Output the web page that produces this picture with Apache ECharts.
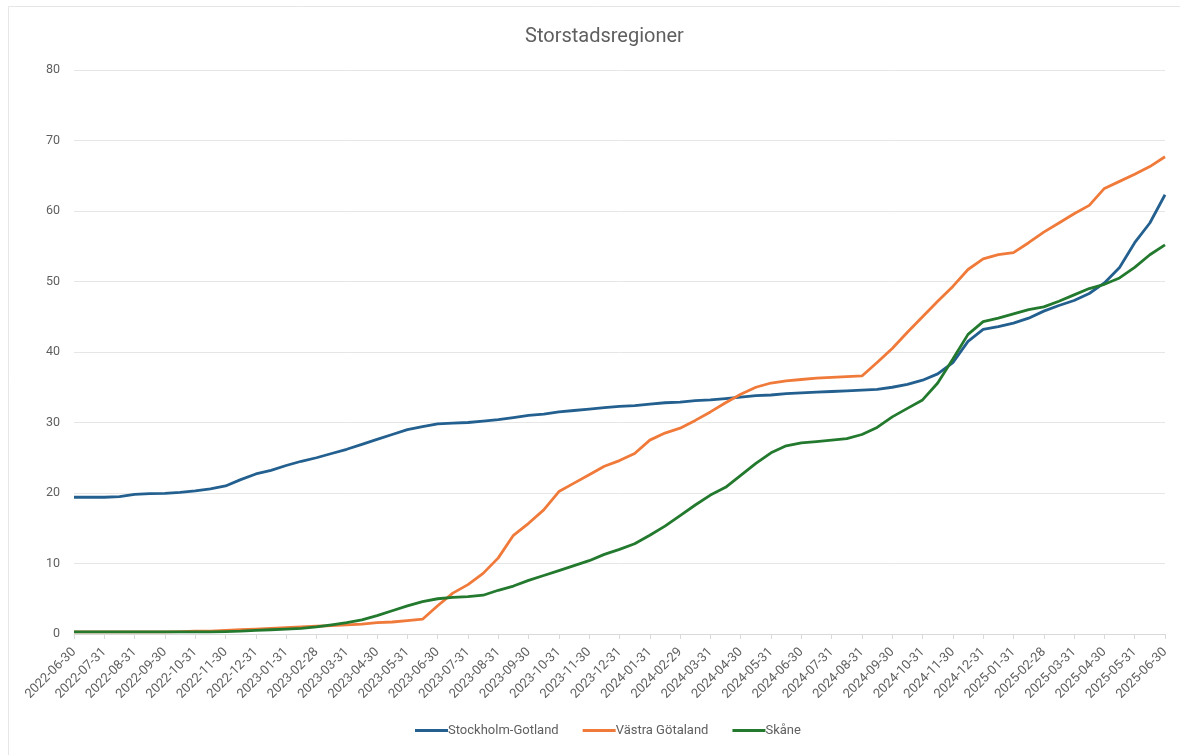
<!DOCTYPE html>
<html>
<head>
<meta charset="utf-8">
<script src="https://cdn.jsdelivr.net/npm/echarts@6/dist/echarts.min.js"></script>
<style>html,body{margin:0;padding:0;background:#fff;}#c{width:1180px;height:755px;}</style>
</head>
<body>
<div id="c"></div>
<script>
// Month-end tick labels (each followed by a mid-month sample point)
const monthEnds = ["2022-06-30","2022-07-31","2022-08-31","2022-09-30","2022-10-31","2022-11-30","2022-12-31",
"2023-01-31","2023-02-28","2023-03-31","2023-04-30","2023-05-31","2023-06-30","2023-07-31","2023-08-31","2023-09-30","2023-10-31","2023-11-30","2023-12-31",
"2024-01-31","2024-02-29","2024-03-31","2024-04-30","2024-05-31","2024-06-30","2024-07-31","2024-08-31","2024-09-30","2024-10-31","2024-11-30","2024-12-31",
"2025-01-31","2025-02-28","2025-03-31","2025-04-30","2025-05-31","2025-06-30"];

const stockholm = [19.4,19.4,19.4,19.5,19.8,19.9,19.95,20.1,20.3,20.6,21.0,21.9,22.7,23.2,23.9,24.5,25.0,25.6,26.2,26.9,
27.6,28.3,29.0,29.4,29.8,29.9,30.0,30.2,30.4,30.7,31.0,31.2,31.5,31.7,31.9,32.1,32.3,32.4,32.6,32.8,
32.9,33.1,33.2,33.4,33.6,33.8,33.9,34.1,34.2,34.3,34.4,34.5,34.6,34.7,35.0,35.4,36.0,36.9,38.5,41.5,
43.2,43.6,44.1,44.8,45.8,46.6,47.3,48.3,49.8,52.0,55.5,58.3,62.3];

const vastraGotaland = [0.3,0.3,0.3,0.3,0.3,0.3,0.3,0.35,0.4,0.4,0.5,0.6,0.7,0.8,0.9,1.0,1.1,1.2,1.3,1.4,
1.6,1.7,1.9,2.1,4.0,5.8,7.0,8.6,10.8,14.0,15.7,17.6,20.2,21.4,22.6,23.8,24.6,25.6,27.5,28.5,
29.2,30.3,31.5,32.8,34.0,35.0,35.6,35.9,36.1,36.3,36.4,36.5,36.6,38.5,40.5,42.8,45.0,47.2,49.3,51.7,
53.2,53.8,54.1,55.5,57.0,58.3,59.6,60.8,63.2,64.2,65.2,66.3,67.7];

const skane = [0.3,0.3,0.3,0.3,0.3,0.3,0.3,0.3,0.3,0.3,0.35,0.4,0.5,0.6,0.7,0.8,1.0,1.3,1.6,2.0,
2.6,3.3,4.0,4.6,5.0,5.2,5.3,5.5,6.2,6.8,7.6,8.3,9.0,9.7,10.4,11.3,12.0,12.8,14.0,15.3,
16.8,18.3,19.7,20.8,22.5,24.2,25.7,26.7,27.1,27.3,27.5,27.7,28.3,29.3,30.8,32.0,33.2,35.6,39.0,42.5,
44.3,44.8,45.4,46.0,46.4,47.2,48.1,49.0,49.6,50.5,52.0,53.8,55.2];

const yTicks = {min: 0, max: 80, interval: 10};

// Build category list: month-end, then a mid-month point after each (except the last)
const categories = [];
monthEnds.forEach((d, i) => {
  categories.push(d);
  if (i < monthEnds.length - 1) {
    const nxt = monthEnds[i + 1];
    categories.push(nxt.slice(0, 8) + "15");
  }
});

const chart = echarts.init(document.getElementById('c'));
const txt = '#5f5f5f';
const font = 'Roboto, "Noto Sans", sans-serif';
chart.setOption({
  animation: false,
  backgroundColor: '#fff',
  graphic: [{
    type: 'rect', shape: {x: 8.5, y: 6.5, width: 1180, height: 760},
    style: {fill: 'none', stroke: '#e6e6e6', lineWidth: 1}, silent: true, z: -1
  }],
  title: {
    text: 'Storstadsregioner', left: 520, top: 22,
    textStyle: {color: txt, fontSize: 20, fontWeight: 'normal', fontFamily: font}
  },
  legend: {
    bottom: 13, left: 410, itemWidth: 33, itemHeight: 3, itemGap: 24,
    icon: 'rect',
    textStyle: {color: txt, fontSize: 13, fontFamily: font, padding: [0, 0, 0, -5]},
    data: ['Stockholm-Gotland', 'Västra Götaland', 'Skåne']
  },
  grid: {left: 74, right: 15, top: 70, bottom: 121, containLabel: false},
  xAxis: {
    type: 'category', data: categories, boundaryGap: false,
    axisLine: {lineStyle: {color: '#d9d9d9'}},
    axisTick: {show: true, interval: 1, length: 5, lineStyle: {color: '#d9d9d9'}},
    axisLabel: {interval: 1, rotate: 45, color: txt, fontSize: 13, fontFamily: font, margin: 16},
    splitLine: {show: false}
  },
  yAxis: {
    type: 'value', min: yTicks.min, max: yTicks.max, interval: yTicks.interval,
    axisLine: {show: false}, axisTick: {show: false},
    axisLabel: {color: txt, fontSize: 12.5, fontFamily: font, margin: 14},
    splitLine: {lineStyle: {color: '#e6e6e6', width: 1}}
  },
  series: [
    {name: 'Stockholm-Gotland', type: 'line', data: stockholm, showSymbol: false, smooth: false,
     lineStyle: {width: 2.8, color: '#23608f'}, itemStyle: {color: '#23608f'}},
    {name: 'Västra Götaland', type: 'line', data: vastraGotaland, showSymbol: false,
     lineStyle: {width: 2.8, color: '#f07a3a'}, itemStyle: {color: '#f07a3a'}},
    {name: 'Skåne', type: 'line', data: skane, showSymbol: false,
     lineStyle: {width: 2.8, color: '#237a2e'}, itemStyle: {color: '#237a2e'}}
  ]
});
</script>
</body>
</html>
